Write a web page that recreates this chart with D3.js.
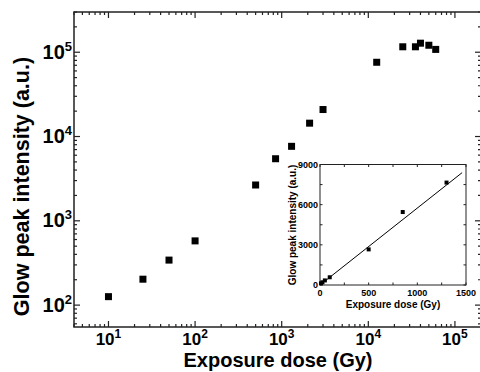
<!DOCTYPE html>
<html><head><meta charset="utf-8">
<script src="https://cdn.jsdelivr.net/npm/d3@7"></script>
<style>
html,body{margin:0;padding:0;background:#fff;}
svg{display:block;font-family:"Liberation Sans",Arial,sans-serif;font-weight:bold;}
</style></head><body>
<svg id="c" width="480" height="372"></svg>
<script>
// Main log-log data
const doseGy = [10, 25, 50, 100, 500, 850, 1300, 2100, 3000, 12500, 25000, 35000, 40000, 50000, 60000];
const intensity = [126, 203, 342, 578, 2660, 5450, 7650, 14400, 20900, 76000, 116000, 116000, 128000, 121000, 108000];
const xDomain = [4, 200000];
const yDomain = [55, 300000];
const xTickExps = [1, 2, 3, 4, 5];
const yTickExps = [2, 3, 4, 5];
// Inset (linear) data: low-dose points
const insetDose = [10, 25, 50, 100, 500, 850, 1300];
const insetIntensity = [126, 203, 342, 578, 2660, 5450, 7650];
const fitDose = [0, 1460];
const fitIntensity = [0, 8390];
const insetXTicks = [0, 500, 1000, 1500];
const insetYTicks = [0, 3000, 6000, 9000];

const svg = d3.select("#c");
const M = {l:74, r:481, t:12, b:327};
const x = d3.scaleLog().domain(xDomain).range([M.l, M.r]);
const y = d3.scaleLog().domain(yDomain).range([M.b, M.t]);

function logTicks(dom){
  const out=[];
  const lo=Math.floor(Math.log10(dom[0])), hi=Math.ceil(Math.log10(dom[1]));
  for(let e=lo;e<=hi;e++) for(let m=1;m<10;m++){const v=m*Math.pow(10,e); if(v>=dom[0]&&v<=dom[1]) out.push({v, major:m===1});}
  return out;
}
const axCol="#222";
const g = svg.append("g");
g.append("rect").attr("x",M.l).attr("y",M.t).attr("width",M.r-M.l).attr("height",M.b-M.t)
 .attr("fill","none").attr("stroke",axCol).attr("stroke-width",1.5);
logTicks(xDomain).forEach(t=>{
  const px=x(t.v), L=t.major?6:3;
  g.append("line").attr("x1",px).attr("x2",px).attr("y1",M.b).attr("y2",M.b-L).attr("stroke",axCol).attr("stroke-width",1.2);
  g.append("line").attr("x1",px).attr("x2",px).attr("y1",M.t).attr("y2",M.t+L).attr("stroke",axCol).attr("stroke-width",1.2);
});
logTicks(yDomain).forEach(t=>{
  const py=y(t.v), L=t.major?6:3;
  g.append("line").attr("y1",py).attr("y2",py).attr("x1",M.l).attr("x2",M.l+L).attr("stroke",axCol).attr("stroke-width",1.2);
  g.append("line").attr("y1",py).attr("y2",py).attr("x1",M.r).attr("x2",M.r-L).attr("stroke",axCol).attr("stroke-width",1.2);
});
xTickExps.forEach(e=>{
  const t=g.append("text").attr("x",x(Math.pow(10,e))).attr("y",344.5).attr("text-anchor","middle").attr("font-size",17).attr("fill","#000");
  t.append("tspan").text("10");
  t.append("tspan").attr("dy",-7).attr("font-size",12).text(e);
});
yTickExps.forEach(e=>{
  const t=g.append("text").attr("x",72).attr("y",y(Math.pow(10,e))+6.5).attr("text-anchor","end").attr("font-size",20).attr("fill","#000");
  t.append("tspan").text("10");
  t.append("tspan").attr("dy",-8).attr("font-size",13).text(e);
});
g.append("text").attr("x",278).attr("y",367).attr("text-anchor","middle").attr("font-size",20).text("Exposure dose (Gy)");
g.append("text").attr("transform","translate(29,186.5) rotate(-90)").attr("text-anchor","middle").attr("font-size",21.5).text("Glow peak intensity (a.u.)");
g.selectAll("rect.pt").data(doseGy.map((d,i)=>[d,intensity[i]])).enter().append("rect").attr("class","pt")
 .attr("x",d=>x(d[0])-3.5).attr("y",d=>y(d[1])-3.5).attr("width",7).attr("height",7).attr("fill","#000");

// Inset
const I = {l:320, r:466, t:164.5, b:285};
const xi = d3.scaleLinear().domain([0,1500]).range([I.l,I.r]);
const yi = d3.scaleLinear().domain([0,9000]).range([I.b,I.t]);
const gi = svg.append("g");
gi.append("rect").attr("x",I.l).attr("y",I.t).attr("width",I.r-I.l).attr("height",I.b-I.t)
 .attr("fill","#fff").attr("stroke",axCol).attr("stroke-width",1);
d3.range(0,1501,250).forEach(v=>{
  const px=xi(v);
  gi.append("line").attr("x1",px).attr("x2",px).attr("y1",I.b).attr("y2",I.b-2.5).attr("stroke",axCol);
  gi.append("line").attr("x1",px).attr("x2",px).attr("y1",I.t).attr("y2",I.t+2.5).attr("stroke",axCol);
});
d3.range(0,9001,1500).forEach(v=>{
  const py=yi(v);
  gi.append("line").attr("y1",py).attr("y2",py).attr("x1",I.l).attr("x2",I.l+2.5).attr("stroke",axCol);
  gi.append("line").attr("y1",py).attr("y2",py).attr("x1",I.r).attr("x2",I.r-2.5).attr("stroke",axCol);
});
insetXTicks.forEach(v=>gi.append("text").attr("x",xi(v)).attr("y",296).attr("text-anchor","middle").attr("font-size",9).text(v));
insetYTicks.forEach(v=>gi.append("text").attr("x",318).attr("y",yi(v)+3.2).attr("text-anchor","end").attr("font-size",9).text(v));
gi.append("text").attr("x",393).attr("y",307.5).attr("text-anchor","middle").attr("font-size",10).text("Exposure dose (Gy)");
gi.append("text").attr("transform","translate(295.5,225) rotate(-90)").attr("text-anchor","middle").attr("font-size",10).text("Glow peak intensity (a.u.)");
gi.append("path").datum(fitDose.map((d,i)=>[d,fitIntensity[i]]))
 .attr("d",d3.line().x(d=>xi(d[0])).y(d=>yi(d[1]))).attr("stroke","#000").attr("stroke-width",1).attr("fill","none");
gi.selectAll("rect.ip").data(insetDose.map((d,i)=>[d,insetIntensity[i]])).enter().append("rect").attr("class","ip")
 .attr("x",d=>xi(d[0])-2).attr("y",d=>yi(d[1])-2).attr("width",4).attr("height",4).attr("fill","#000");
</script></body></html>
